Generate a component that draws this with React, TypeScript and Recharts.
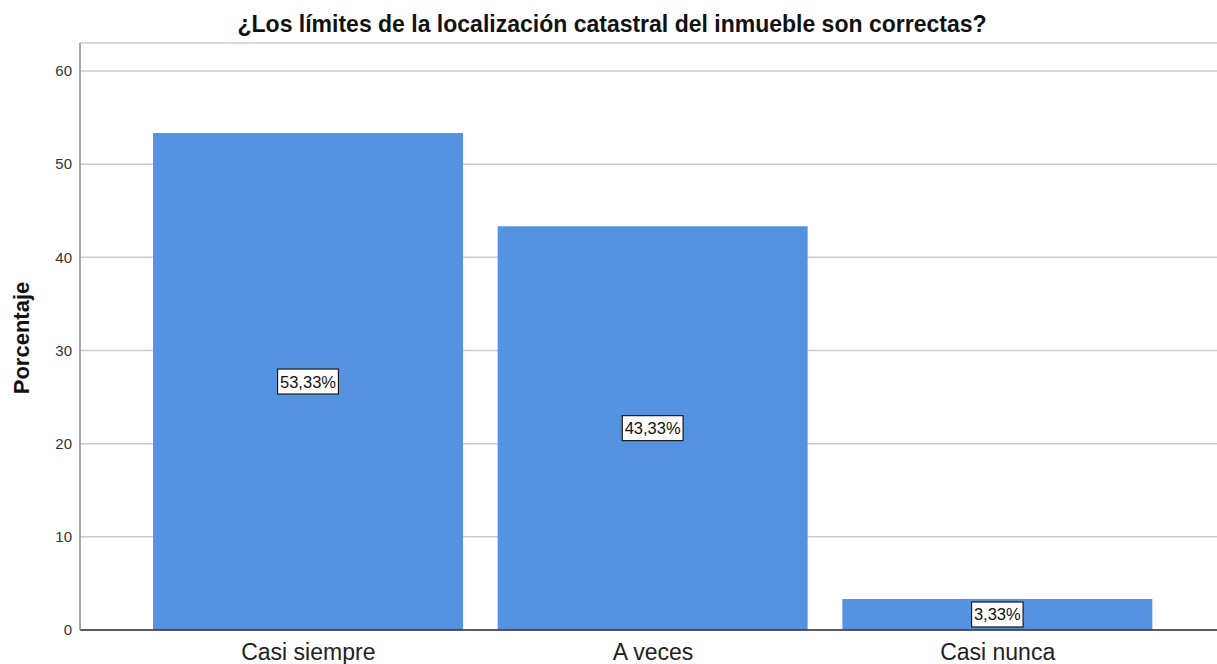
import React from "react";
import {
  BarChart,
  Bar,
  XAxis,
  YAxis,
  CartesianGrid,
  LabelList,
} from "recharts";

const categories = ["Casi siempre", "A veces", "Casi nunca"];
const percentages = [53.33, 43.33, 3.33];
const yTicks = [0, 10, 20, 30, 40, 50, 60];

const data = categories.map((name, i) => ({ name, value: percentages[i] }));

const FONT = "'Liberation Sans', Arial, sans-serif";

const formatPct = (v: number) => `${v.toFixed(2).replace(".", ",")}%`;

// boxed value label drawn in the middle of each bar
const BoxLabel = (props: any) => {
  const { x, y, width, height, value } = props;
  const cx = x + width / 2;
  const cy = y + height / 2;
  const text = formatPct(value);
  const w = text.length * 9.3 + 5;
  const h = 25;
  return (
    <g>
      <rect
        x={cx - w / 2}
        y={cy - h / 2}
        width={w}
        height={h}
        fill="#ffffff"
        stroke="#1a1a1a"
        strokeWidth={1.2}
      />
      <text
        x={cx}
        y={cy + 6}
        textAnchor="middle"
        fontFamily={FONT}
        fontSize={16.5}
        fill="#111"
      >
        {text}
      </text>
    </g>
  );
};

export default function App() {
  return (
    <div
      style={{
        position: "absolute",
        left: 0,
        top: 0,
        width: 1217,
        height: 664,
        background: "#fff",
        fontFamily: FONT,
      }}
    >
      <div
        style={{
          position: "absolute",
          left: 0,
          top: 13,
          width: 1224,
          textAlign: "center",
          fontSize: 23,
          lineHeight: "23px",
          fontWeight: "bold",
          color: "#111",
        }}
      >
        ¿Los límites de la localización catastral del inmueble son correctas?
      </div>
      <div
        style={{
          position: "absolute",
          left: 22,
          top: 338,
          transform: "translate(-50%, -50%) rotate(-90deg)",
          fontSize: 22,
          lineHeight: "22px",
          fontWeight: "bold",
          color: "#111",
          whiteSpace: "nowrap",
        }}
      >
        Porcentaje
      </div>
      <BarChart
        width={1217}
        height={664}
        data={data}
        margin={{ top: 43, right: 0, bottom: 0, left: 0 }}
      >
        <CartesianGrid vertical={false} stroke="#cbcbcb" strokeWidth={1.5} />
        <XAxis
          dataKey="name"
          padding={{ left: 56, right: 47 }}
          axisLine={{ stroke: "#333", strokeWidth: 1.5 }}
          tickLine={false}
          tick={{ fontFamily: FONT, fontSize: 23, fill: "#222" }}
          tickMargin={8}
          height={34}
        />
        <YAxis
          domain={[0, 63]}
          ticks={yTicks}
          width={80}
          axisLine={{ stroke: "#8a8a8a", strokeWidth: 1.5 }}
          tickLine={false}
          tickMargin={2}
          tick={{ fontFamily: FONT, fontSize: 15, fill: "#333" }}
        />
        <Bar
          dataKey="value"
          fill="#5593e1"
          barSize={310}
          isAnimationActive={false}
        >
          <LabelList dataKey="value" content={BoxLabel} />
        </Bar>
      </BarChart>
    </div>
  );
}
